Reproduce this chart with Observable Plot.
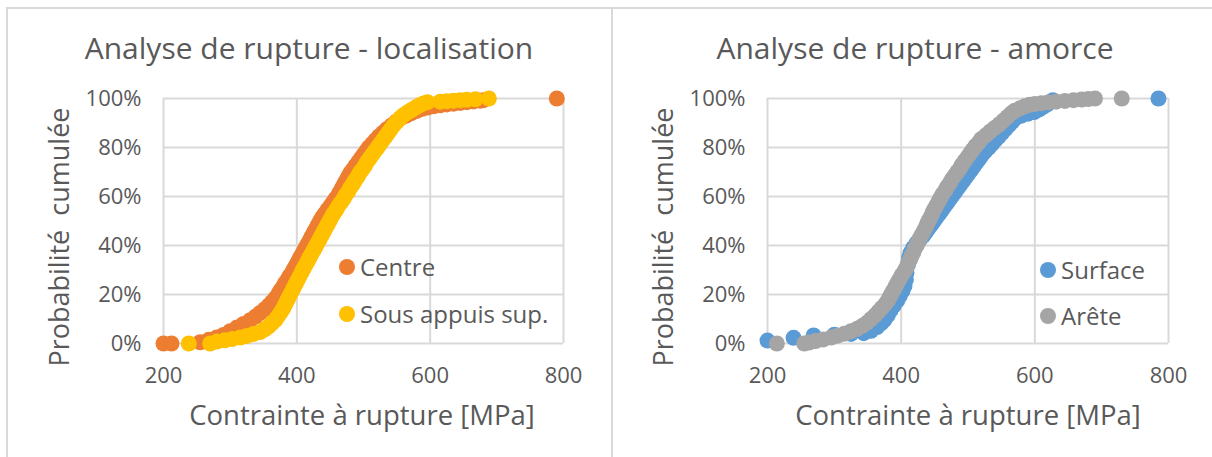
<!DOCTYPE html>
<html><head><meta charset="utf-8">
<script src="https://cdn.jsdelivr.net/npm/d3@7"></script>
<script src="https://cdn.jsdelivr.net/npm/@observablehq/plot@0.6"></script>
<style>
body{margin:0;background:#fff;font-family:"Open Sans",sans-serif;color:#595959}
#root{position:relative;width:1212px;height:457px;overflow:hidden;background:#fff}
.panel{position:absolute;top:0;width:606px;height:457px}
.panel svg{position:absolute;left:0;top:0}
.t{position:absolute;white-space:pre;transform:translate(-50%,-50%);line-height:1}
.title{font-size:30px}
.alab{font-size:27.5px}
.ylab{font-size:27px;transform:translate(-50%,-50%) rotate(-90deg)}
.leg{position:absolute;display:flex;align-items:center;transform:translateY(-50%);font-size:24px;white-space:pre;line-height:1}
.leg span.d{display:inline-block;width:16px;height:16px;border-radius:50%;margin-right:5px}
.line{position:absolute;background:#d9d9d9}
</style></head>
<body>
<div id="root">
  <div class="line" style="left:6px;top:7px;width:1206px;height:2px"></div>
  <div class="line" style="left:6px;top:7px;width:2px;height:450px"></div>
  <div class="line" style="left:611px;top:7px;width:2px;height:450px"></div>
  <div class="panel" id="p1" style="left:0"></div>
  <div class="panel" id="p2" style="left:606px"></div>
</div>
<script>
const xTicks = [200, 400, 600, 800];
const yTicks = [0, 20, 40, 60, 80, 100];
const titles = ["Analyse de rupture - localisation", "Analyse de rupture - amorce"];
const xLabel = "Contrainte à rupture [MPa]";
const yLabel = "Probabilité  cumulée";
const seriesNames = [["Centre", "Sous appuis sup."], ["Surface", "Arête"]];
const colors = [["#ED7D31", "#FFC000"], ["#5B9BD5", "#A5A5A5"]];

// [contrainte MPa, probabilité cumulée %]
const centre = [[200,0],[212,0],[255,0.5],[268,1.5],[280,2.5],[290,3.5],[300,5],[310,6.5],[320,8],[330,9.5],[338,11],[345,12.5],[352,14],[358,15.5],[363,17],[368,18.5],[372,20],[375,21.5],[379,23],[382,24.5],[386,26],[389,27.5],[393,29],[396,30.5],[399,32],[402,33.5],[405,35],[408,36.5],[411,38],[414,39.5],[417,41],[420,42.5],[423,44],[426,45.5],[429,47],[432,48.5],[435,50],[438,51.5],[442,53],[446,54.5],[450,56],[454,57.5],[458,59],[462,60.5],[465,62],[468,63.5],[471,65],[474,66.5],[477,68],[480,69.5],[484,71],[488,72.5],[492,74],[496,75.5],[500,77],[504,78.5],[508,80],[513,81.5],[518,83],[523,84.5],[529,86],[535,87.5],[542,89],[549,90.5],[556,92],[564,93],[572,94],[580,95],[588,95.8],[596,96.3],[605,96.8],[615,97.2],[625,97.6],[635,97.9],[645,98.2],[655,98.5],[665,98.8],[675,99.1],[680,99.3],[790,100]];
const sousAppuis = [[238,0],[270,0],[280,0.8],[292,1.3],[303,1.8],[315,2.4],[325,3.1],[335,3.9],[345,4.7],[352,5.8],[358,7],[363,8.3],[368,9.7],[372,11.2],[376,12.8],[380,14.5],[383,16.2],[386,17.8],[389,19.4],[392,21],[395,22.6],[398,24.2],[401,25.8],[404,27.4],[407,29],[410,30.5],[413,32],[416,33.5],[419,35],[422,36.5],[425,38],[428,39.5],[431,41],[434,42.5],[437,44],[440,45.5],[443,47],[446,48.5],[449,50],[452,51.5],[455,53],[459,54.5],[462,56],[466,57.5],[470,59],[473,60.5],[477,62],[480,63.5],[484,65],[487,66.5],[491,68],[494,69.5],[498,71],[502,72.5],[505,74],[509,75.5],[513,77],[517,78.5],[521,80],[525,81.5],[529,83],[533,84.5],[537,86],[541,87.5],[545,89],[550,90.5],[555,92],[560,93.2],[566,94.3],[572,95.3],[578,96.3],[584,97.2],[590,98],[596,98.5],[615,98.7],[625,98.9],[635,99.1],[645,99.3],[655,99.5],[668,99.7],[688,100]];
const surface = [[200,1.2],[239,2.3],[269,3.3],[300,3.6],[325,3.9],[344,4.2],[355,5.2],[364,6.7],[370,8.2],[375,9.7],[380,11.5],[384,13.5],[389,15.5],[394,17.5],[398,19.5],[402,21.5],[405,23.5],[407,26],[408,29],[410,32],[412,35],[414,37],[418,39],[423,41],[428,42.5],[433,44],[437,45.5],[441,47],[445,48.5],[449,50],[453,51.5],[457,53],[461,54.5],[465,56],[469,57.5],[473,59],[477,60.5],[481,62],[485,63.5],[489,65],[493,66.5],[497,68],[501,69.5],[505,71],[509,72.5],[513,74],[517,75.5],[521,77],[526,78.5],[531,80],[536,81.5],[541,83],[546,84.5],[551,86],[556,87.5],[561,89],[566,90.5],[571,92],[580,93],[590,93.8],[599,94.5],[606,95.5],[612,96.5],[618,97.5],[623,98.5],[627,99.3],[785,100]];
const arete = [[214,0],[255,0],[262,0.4],[272,1],[283,1.6],[295,2.4],[305,3.2],[315,4],[325,5],[334,6],[342,7.2],[349,8.5],[355,10],[361,11.5],[366,13],[371,14.5],[376,16],[380,17.5],[383,19],[386,20.5],[389,22],[392,23.5],[395,25],[398,26.5],[401,28],[405,29.5],[408,31],[410,32.5],[413,34],[415,35.5],[418,37],[420,38.5],[423,40],[426,41.5],[428,43],[431,44.5],[434,46],[437,47.5],[439,49],[442,50.5],[445,52],[447,53.5],[450,55],[453,56.5],[456,58],[459,59.5],[462,61],[466,62.5],[469,64],[473,65.5],[476,67],[480,68.5],[484,70],[488,71.5],[491,73],[495,74.5],[499,76],[503,77.5],[507,79],[511,80.5],[516,82],[520,83.5],[527,85],[533,86.5],[540,88],[547,89.5],[553,91],[559,92.5],[565,94],[570,95],[578,96],[585,96.8],[592,97.4],[600,97.8],[610,98.1],[620,98.4],[632,98.7],[645,99],[658,99.3],[670,99.6],[680,99.8],[690,100],[730,100]];

const panels = [
  {el: "p1", data: [centre, sousAppuis], ml: 163, mr: 43, titleX: 309, xlabX: 362, ylabX: 58, legX: 339, legY: [267, 314]},
  {el: "p2", data: [surface, arete], ml: 161, mr: 44, titleX: 309, xlabX: 362, ylabX: 56, legX: 434, legY: [270, 316]}
];

panels.forEach((p, i) => {
  const chart = Plot.plot({
    width: 606, height: 457,
    marginLeft: p.ml, marginRight: p.mr, marginTop: 98, marginBottom: 114,
    style: {fontFamily: "'Open Sans', sans-serif", fontSize: "22px", color: "#595959", background: "transparent"},
    x: {domain: [200, 800], ticks: xTicks, label: null},
    y: {domain: [0, 100], ticks: yTicks, label: null},
    marks: [
      Plot.gridX(xTicks, {stroke: "#d9d9d9", strokeOpacity: 1, strokeWidth: 2}),
      Plot.gridY(yTicks, {stroke: "#d9d9d9", strokeOpacity: 1, strokeWidth: 2}),
      Plot.dot(p.data[0], {x: d => d[0], y: d => d[1], r: 8, fill: colors[i][0]}),
      Plot.dot(p.data[1], {x: d => d[0], y: d => d[1], r: 8, fill: colors[i][1]}),
      Plot.axisX(xTicks, {tickSize: 0, tickPadding: 24, fill: "#595959"}),
      Plot.axisY(yTicks, {tickSize: 0, tickPadding: 22, tickFormat: d => d + "%", fill: "#595959"})
    ]
  });
  const host = document.getElementById(p.el);
  host.appendChild(chart);
  const add = (cls, txt, x, y) => {
    const d = document.createElement("div");
    d.className = "t " + cls; d.textContent = txt;
    d.style.left = x + "px"; d.style.top = y + "px";
    host.appendChild(d);
  };
  add("title", titles[i], p.titleX, 48);
  add("alab", xLabel, p.xlabX, 415);
  add("ylab", yLabel, p.ylabX, 237);
  seriesNames[i].forEach((name, j) => {
    const d = document.createElement("div");
    d.className = "leg";
    d.style.left = p.legX + "px"; d.style.top = p.legY[j] + "px";
    const s = document.createElement("span"); s.className = "d"; s.style.background = colors[i][j];
    d.appendChild(s); d.appendChild(document.createTextNode(name));
    host.appendChild(d);
  });
});
</script>
</body></html>
